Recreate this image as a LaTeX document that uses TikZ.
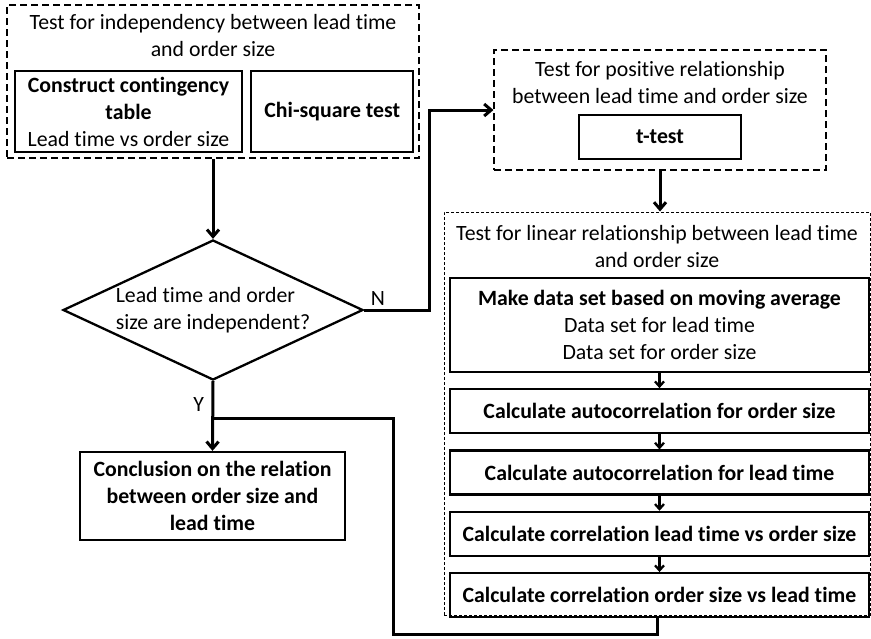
\documentclass[tikz,border=0pt]{standalone}
\usepackage{fontspec}
\setmainfont{Carlito}[RawFeature={-liga}]
\usetikzlibrary{positioning,shapes.geometric,arrows.meta}

\begin{document}
\begin{tikzpicture}[x=1pt, y=-1pt, font=\fontsize{21.8}{27}\selectfont,
    box/.style = {rectangle, draw, line width=2.3pt, align=center, inner sep=0pt},
    group/.style = {rectangle, draw, line width=1.1pt, dash pattern=on 7pt off 4pt, inner sep=0pt},
    fine/.style = {rectangle, draw, line width=1pt, dash pattern=on 3pt off 2pt, inner sep=0pt},
    title/.style = {align=center, inner sep=0pt},
    decision/.style = {diamond, draw, line width=2.3pt, aspect=2.14, inner sep=0pt, align=left,
        minimum width=300pt, minimum height=140pt},
    flow/.style = {line width=3pt, -{Straight Barb[length=7pt,width=12pt]}}]
    \useasboundingbox (0,0) rectangle (871,638);
    % independency test
    \node[group, minimum width=412pt, minimum height=153pt] (1) at (213,81.5) {};
    \node[title] (2) at (213,36) {Test for independency between lead time\\and order size};
    \node[box, minimum width=227pt, minimum height=81pt] (3) at (128.5,111.5) {\textbf{Construct contingency}\\\textbf{table}\\Lead time vs order size};
    \node[box, minimum width=162pt, minimum height=81pt] (4) [right=7pt of 3] {\textbf{Chi-square test}};
    \node[decision] (5) at (213,310) {Lead time and order\\size are independent?};
    \node[box, minimum width=265pt, minimum height=88pt] (6) at (212.5,496) {\textbf{Conclusion on the relation}\\\textbf{between order size and}\\\textbf{lead time}};
    % positive relationship
    \node[group, minimum width=332pt, minimum height=120pt] (7) at (660,110) {};
    \node[title] (8) at (660,82.5) {Test for positive relationship\\between lead time and order size};
    \node[box, minimum width=162pt, minimum height=44pt] (9) at (660,137) {\textbf{t-test}};
    % linear relationship
    \node[fine, minimum width=426pt, minimum height=403pt] (10) at (657,413.5) {};
    \node[title] (11) at (657,246.5) {Test for linear relationship between lead time\\and order size};
    \node[box, minimum width=419pt, minimum height=94pt] (12) at (659.5,325) {\textbf{Make data set based on moving average}\\Data set for lead time\\Data set for order size};
    \node[box, minimum width=419pt, minimum height=44pt] (13) [below=15pt of 12] {\textbf{Calculate autocorrelation for order size}};
    \node[box, minimum width=419pt, minimum height=44pt] (14) [below=15pt of 13] {\textbf{Calculate autocorrelation for lead time}};
    \node[box, minimum width=419pt, minimum height=44pt] (15) [below=15pt of 14] {\textbf{Calculate correlation lead time vs order size}};
    \node[box, minimum width=419pt, minimum height=44pt] (16) [below=15pt of 15] {\textbf{Calculate correlation order size vs lead time}};
    \coordinate (j) at (213,418);
    \coordinate (k) at (393,418);
    \coordinate (n) at (429,310);
    % connectors
    \path[flow] (1) edge (5);
    \draw[flow] (5.east) node[above right=0pt and 2pt] {N} -- (n) |- (7.west);
    \draw[flow] (7.south) -- (7.south |- 10.north);
    \draw[flow] (5.south) -- node[pos=0.33, left=4pt] {Y} (6.north);
    \draw[line width=3pt] (10.south) -- ++(0,19) -| (k) -- (j);
    \foreach \a/\b in {12/13, 13/14, 14/15, 15/16}
        \draw[line width=2.3pt, -{Straight Barb[length=5pt,width=9pt]}] (\a) -- (\b);
\end{tikzpicture}
\end{document}
